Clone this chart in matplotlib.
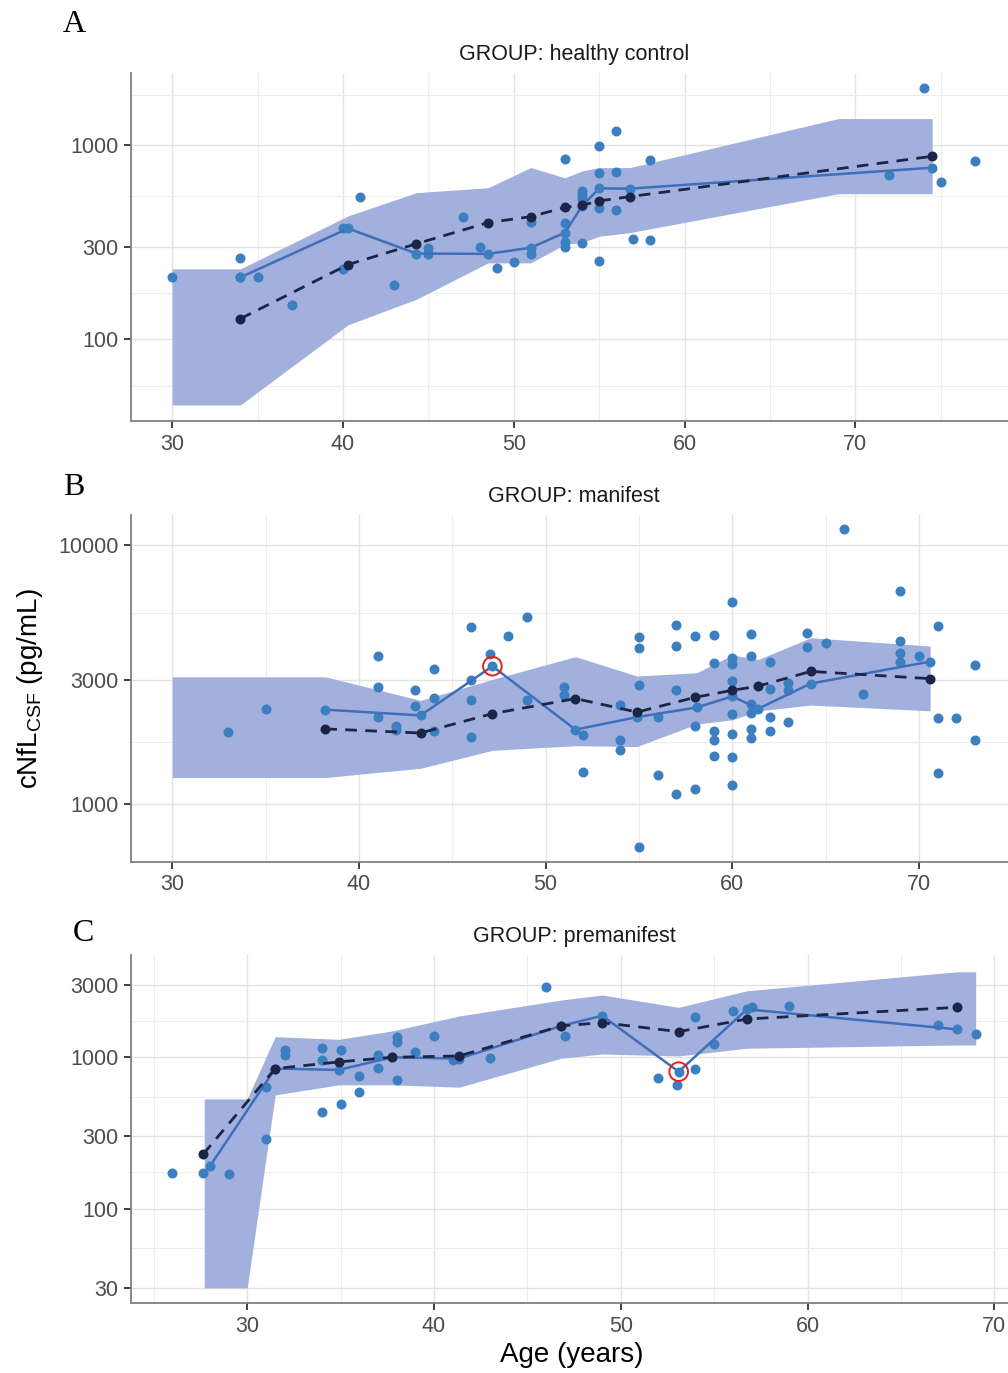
import numpy as np
import matplotlib
matplotlib.use("Agg")
import matplotlib.pyplot as plt
from matplotlib.ticker import FixedLocator, FixedFormatter, NullFormatter

# ---------------- Panel A : healthy control ----------------
a_sc_age = [30, 34, 34, 35, 37, 40, 41, 40, 43, 45, 45, 47, 48, 49, 50, 51, 51,
            53, 53, 53, 53, 54, 54, 54, 54, 55, 55, 55, 55, 56, 56, 56, 57, 58, 58,
            72, 74, 75, 77]
a_sc_val = [210, 262, 209, 209, 151, 373, 542, 230, 191, 277, 297, 429, 299, 232, 252, 403, 277,
            847, 396, 318, 301, 581, 555, 527, 315, 991, 717, 478, 255, 1181, 728, 464, 329, 840, 324,
            703, 1983, 647, 834]
a_line_age = [34.0, 40.3, 44.3, 48.5, 51.0, 53.0, 54.0, 55.0, 56.8, 74.5]
a_line_val = [209, 373, 277, 276, 297, 355, 487, 600, 598, 767]
a_dash_age = [34.0, 40.3, 44.3, 48.5, 51.0, 53.0, 54.0, 55.0, 56.8, 74.5]
a_dash_val = [128, 243, 311, 400, 429, 479, 491, 517, 544, 878]
a_band_age = [30, 34, 40.3, 44.3, 48.5, 51, 53, 54, 55, 56.8, 69, 74.5]
a_band_hi = [231, 231, 433, 570, 605, 768, 680, 738, 768, 768, 1373, 1373]
a_band_lo = [46, 46, 119, 161, 248, 248, 309, 315, 340, 355, 563, 563]
a_yticks = [100, 300, 1000]

# ---------------- Panel B : manifest ----------------
b_sc_age = [33, 35, 41, 41, 41, 42, 42, 43, 43, 44, 44, 44, 46, 46, 46, 46, 47, 48, 49, 49,
            51, 51, 52, 52, 54, 54, 54, 55, 55, 55, 55, 56, 56, 57, 57, 57, 57, 58, 58, 58,
            59, 59, 59, 59, 59, 60, 60, 60, 60, 60, 60, 60, 60, 61, 61, 61, 61, 61, 61,
            62, 62, 62, 62, 63, 63, 63, 64, 64, 65, 66, 67, 69, 69, 69, 69, 70, 71, 71, 71,
            72, 73, 73]
b_sc_val = [1905, 2323, 3714, 2818, 2173, 2005, 1923, 2767, 2399, 3317, 2576, 1913, 4822, 3006, 2529, 1807,
            3812, 4460, 5263, 2529,
            2840, 2636, 1840, 1330, 2416, 1759, 1611, 4395, 3990, 2892, 683, 2168, 1294, 4898, 4066, 2762,
            1094, 4456, 2001, 1146,
            4482, 3492, 1913, 1759, 1535, 6015, 3673, 3461, 2979, 2233, 1866, 1513, 1189, 4529, 3727, 2442,
            2249, 1956, 1800,
            3549, 2786, 2167, 1913, 2939, 2767, 2080, 4558, 4040, 4178, 11535, 2660, 6664, 4276, 3838, 3549,
            3714, 4887, 2147, 1321,
            2147, 3430, 1770]
b_line_age = [38.2, 43.3, 47.15, 51.6, 54.9, 58.1, 60.0, 61.4, 64.2, 70.6]
b_line_val = [2314, 2198, 3405, 1937, 2166, 2360, 2605, 2335, 2917, 3549]
b_dash_age = [38.2, 43.3, 47.15, 51.6, 54.9, 58.0, 60.0, 61.4, 64.2, 70.6]
b_dash_val = [1950, 1880, 2233, 2553, 2264, 2581, 2748, 2852, 3251, 3048]
b_band_age = [30, 38.2, 43.3, 47.15, 51.6, 54.9, 58.1, 60.0, 61.4, 64.2, 70.6]
b_band_hi = [3098, 3098, 2512, 3027, 3707, 3120, 3213, 3762, 3616, 4385, 4074]
b_band_lo = [1265, 1265, 1374, 1611, 1679, 1667, 2037, 2113, 2289, 2410, 2289]
b_yticks = [1000, 3000, 10000]
b_mark = (47.15, 3405)

# ---------------- Panel C : premanifest ----------------
c_sc_age = [26, 27.65, 29, 31, 31, 32, 32, 34, 34, 34, 35, 35, 36, 36, 37, 37, 38, 38, 38, 39, 40,
            41, 43, 46, 47, 52, 53, 54, 54, 55, 56, 57, 59, 67, 69]
c_sc_val = [171, 171, 168, 288, 638, 1112, 1031, 1141, 955, 435, 1112, 491, 754, 586, 1026, 842,
            1349, 1256, 703, 1084, 1369,
            955, 980, 2904, 1374, 728, 654, 1824, 830, 1218, 2010, 2120, 2177, 1633, 1416]
c_line_age = [28.0, 31.5, 34.9, 37.75, 41.35, 46.8, 49.0, 53.1, 56.75, 68.0]
c_line_val = [190, 838, 821, 995, 975, 1600, 1870, 800, 2061, 1520]
c_dash_age = [27.65, 31.5, 34.9, 37.75, 41.35, 46.8, 49.0, 53.1, 56.75, 68.0]
c_dash_val = [229, 838, 927, 995, 1015, 1600, 1683, 1468, 1778, 2124]
c_band_age = [27.7, 30.0, 31.5, 34.9, 37.75, 41.35, 46.8, 49.0, 53.1, 56.75, 68.0, 69.0]
c_band_hi = [529, 529, 1360, 1307, 1483, 1862, 2371, 2559, 2124, 2729, 3641, 3641]
c_band_lo = [30, 30, 562, 655, 655, 632, 980, 1046, 1015, 1141, 1199, 1199]
c_yticks = [30, 100, 300, 1000, 3000]
c_mark = (53.1, 800)

xticks = [30, 40, 50, 60, 70]
titles = ["GROUP: healthy control", "GROUP: manifest", "GROUP: premanifest"]
letters = ["A", "B", "C"]

# ---------------- style ----------------
BAND = "#A2B0DE"
PT = "#3B7FC0"
LINE = "#3F6EBA"
DARK = "#1C2546"
GRID_MAJ = "#E3E3E3"
GRID_MIN = "#EDEDED"
TXT = "#4D4D4D"

W, H = 1008, 1373
plt.rcParams["font.family"] = ["Liberation Sans", "DejaVu Sans"]
fig = plt.figure(figsize=(W / 100, H / 100), dpi=100)

geo = [
    dict(top=72.7, bottom=421, xlim=(27.59, 78.94), ylim=(1.580, 3.374), tb=60, let=(63, 32)),
    dict(top=515, bottom=862, xlim=(27.79, 74.77), ylim=(2.776, 4.116), tb=502, let=(63, 495)),
    dict(top=955, bottom=1303.3, xlim=(23.78, 70.73), ylim=(1.376, 3.672), tb=942, let=(73, 941)),
]

data = [
    (a_sc_age, a_sc_val, a_line_age, a_line_val, a_dash_age, a_dash_val,
     a_band_age, a_band_lo, a_band_hi, a_yticks, None),
    (b_sc_age, b_sc_val, b_line_age, b_line_val, b_dash_age, b_dash_val,
     b_band_age, b_band_lo, b_band_hi, b_yticks, b_mark),
    (c_sc_age, c_sc_val, c_line_age, c_line_val, c_dash_age, c_dash_val,
     c_band_age, c_band_lo, c_band_hi, c_yticks, c_mark),
]

MS = 7.2
left = 131
for i, (g, d) in enumerate(zip(geo, data)):
    (sa, sv, la, lv, da, dv, ba, blo, bhi, yt, mark) = d
    ax = fig.add_axes([left / W, 1 - g["bottom"] / H, (W - left) / W, (g["bottom"] - g["top"]) / H])
    ax.set_yscale("log")
    ax.set_xlim(*g["xlim"])
    ax.set_ylim(10 ** g["ylim"][0], 10 ** g["ylim"][1])

    ax.fill_between(ba, blo, bhi, color=BAND, lw=0, zorder=2)
    ax.scatter(sa, sv, s=MS ** 2, color=PT, lw=0, zorder=3)
    ax.plot(la, lv, color=LINE, lw=1.8, marker="o", ms=MS, mec="none", mfc=PT, zorder=4)
    ax.plot(da, dv, color=DARK, lw=2.0, ls=(0, (4.2, 3)), marker="o", ms=MS,
            mec="none", mfc=DARK, zorder=5)
    if mark is not None:
        ax.scatter([mark[0]], [mark[1]], s=180, facecolors="none", edgecolors="#E8201E",
                   lw=1.4, zorder=6)

    ax.xaxis.set_major_locator(FixedLocator(xticks))
    ax.xaxis.set_minor_locator(FixedLocator([15, 25, 35, 45, 55, 65, 75, 85]))
    ax.xaxis.set_major_formatter(FixedFormatter([str(v) for v in xticks]))
    lyt = np.log10(yt)
    ext = np.concatenate([[lyt[0] - (lyt[1] - lyt[0])], lyt, [lyt[-1] + (lyt[-1] - lyt[-2])]])
    minors = 10 ** ((ext[:-1] + ext[1:]) / 2)
    ax.yaxis.set_major_locator(FixedLocator(yt))
    ax.yaxis.set_minor_locator(FixedLocator(list(minors)))
    ax.yaxis.set_major_formatter(FixedFormatter([str(v) for v in yt]))
    ax.yaxis.set_minor_formatter(NullFormatter())
    ax.tick_params(which="major", length=5, width=1.3, color="#333333",
                   labelsize=15.5, labelcolor=TXT, pad=4)
    ax.tick_params(which="minor", length=0)
    ax.set_axisbelow(True)
    ax.grid(which="major", color=GRID_MAJ, lw=1.0, zorder=0)
    ax.grid(which="minor", color=GRID_MIN, lw=0.8, zorder=0)
    for s in ["top", "right"]:
        ax.spines[s].set_visible(False)
    for s in ["left", "bottom"]:
        ax.spines[s].set_color("#808080")
        ax.spines[s].set_linewidth(1.3)

    fig.text(574 / W, 1 - g["tb"] / H, titles[i], ha="center", va="baseline",
             fontsize=15.5, color="#1A1A1A")
    fig.text(g["let"][0] / W, 1 - g["let"][1] / H, letters[i], ha="left", va="baseline",
             fontsize=23, family="Liberation Serif", color="black")

fig.text(30 / W, 1 - 689 / H, r"cNfL$_{\mathregular{CSF}}$ (pg/mL)", rotation=90,
         ha="center", va="center", fontsize=20, color="black")
fig.text(572 / W, 1 - 1362 / H, "Age (years)", ha="center", va="baseline",
         fontsize=20, color="black")

fig.savefig("out.png", dpi=100)
